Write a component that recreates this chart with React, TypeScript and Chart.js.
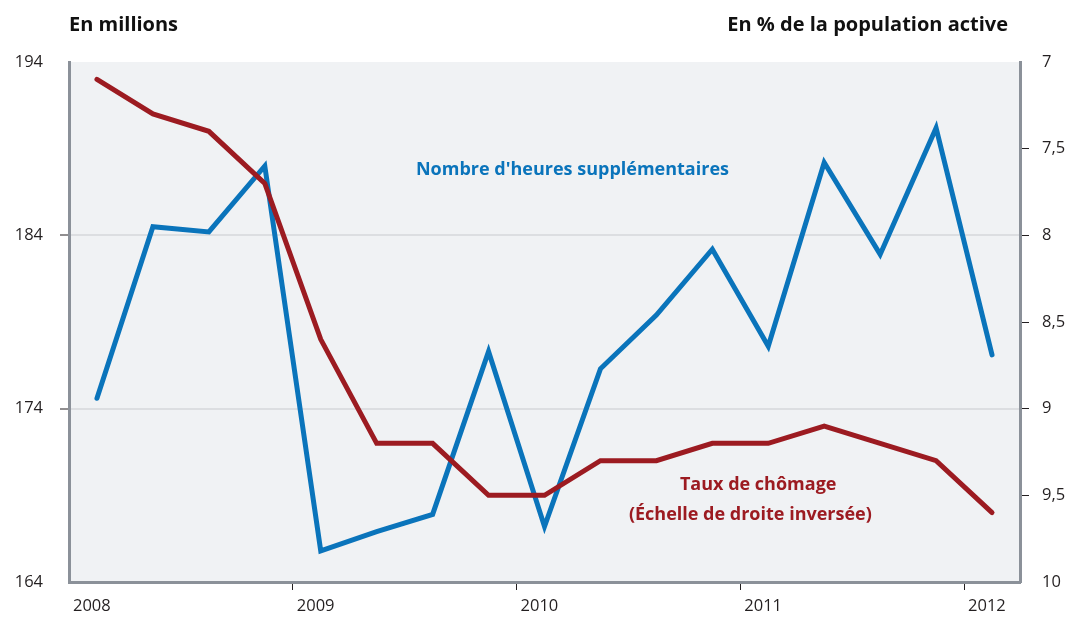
import React, { useEffect, useRef } from "react";
import { Chart, registerables } from "chart.js";
Chart.register(...registerables);

// Quarter mid-points (x positions in years)
const quarters = [
  2008.125, 2008.375, 2008.625, 2008.875,
  2009.125, 2009.375, 2009.625, 2009.875,
  2010.125, 2010.375, 2010.625, 2010.875,
  2011.125, 2011.375, 2011.625, 2011.875,
  2012.125,
];
// Nombre d'heures supplémentaires (millions, left axis)
const heuresSupp = [
  174.6, 184.5, 184.2, 188.0,
  165.8, 166.9, 167.9, 177.3,
  167.2, 176.3, 179.4, 183.2,
  177.6, 188.2, 182.9, 190.2,
  177.1,
];
// Taux de chômage (% population active, right axis inverted)
const chomage = [
  7.1, 7.3, 7.4, 7.7,
  8.6, 9.2, 9.2, 9.5,
  9.5, 9.3, 9.3, 9.2,
  9.2, 9.1, 9.2, 9.3,
  9.6,
];
const yearTicks = [2008, 2009, 2010, 2011, 2012];
const leftTicks = [164, 174, 184, 194];
const leftMarked = [174, 184];
const rightTicks = [7, 7.5, 8, 8.5, 9, 9.5, 10];
const rightMarked = [7.5, 8, 8.5, 9, 9.5];

const BLUE = "#0a74bb";
const RED = "#9c1b21";
const AXIS = "#8b9199";
const TEXT = "#231f20";
const FONT = "'Open Sans', 'Noto Sans', sans-serif";

const annotations = [
  { text: "Nombre d'heures supplémentaires", x: 2010.25, y: 187.77, color: BLUE },
  { text: "Taux de chômage", x: 2011.08, y: 169.6, color: RED },
  { text: "(Échelle de droite inversée)", x: 2011.045, y: 167.86, color: RED },
];

export default function App() {
  const ref = useRef<HTMLCanvasElement | null>(null);
  useEffect(() => {
    document.body.style.margin = "0";
    const canvas = ref.current;
    if (!canvas) return;

    const bgPlugin = {
      id: "bg",
      beforeDraw(chart: any) {
        const { ctx, chartArea } = chart;
        ctx.save();
        ctx.fillStyle = "#f0f2f4";
        ctx.fillRect(chartArea.left, chartArea.top, chartArea.right - chartArea.left, chartArea.bottom - chartArea.top);
        ctx.restore();
      },
    };
    const textPlugin = {
      id: "texts",
      afterDraw(chart: any) {
        const { ctx } = chart;
        const xs = chart.scales.x;
        const ys = chart.scales.y;
        ctx.save();
        ctx.textBaseline = "middle";
        ctx.font = `bold 20px ${FONT}`;
        ctx.fillStyle = "#111";
        ctx.textAlign = "left";
        ctx.fillText("En millions", 69, 25);
        ctx.textAlign = "right";
        ctx.fillText("En % de la population active", 1008, 25);
        ctx.font = `bold 18px ${FONT}`;
        ctx.textAlign = "center";
        for (const a of annotations) {
          ctx.fillStyle = a.color;
          ctx.fillText(a.text, xs.getPixelForValue(a.x), ys.getPixelForValue(a.y));
        }
        ctx.restore();
      },
    };

    const chart = new Chart(canvas, {
      type: "line",
      data: {
        datasets: [
          {
            label: "Taux de chômage",
            data: quarters.map((q, i) => ({ x: q, y: chomage[i] })),
            yAxisID: "y2",
            borderColor: RED,
            borderWidth: 5,
            pointRadius: 0,
            tension: 0,
            borderCapStyle: "round",
            order: 0,
          },
          {
            label: "Nombre d'heures supplémentaires",
            data: quarters.map((q, i) => ({ x: q, y: heuresSupp[i] })),
            yAxisID: "y",
            borderColor: BLUE,
            borderWidth: 5,
            pointRadius: 0,
            tension: 0,
            borderCapStyle: "round",
            order: 1,
          },
        ],
      },
      options: {
        responsive: false,
        animation: false,
        layout: { padding: { top: 62, left: 0, right: 0, bottom: 0 } },
        plugins: { legend: { display: false }, tooltip: { enabled: false } },
        scales: {
          x: {
            type: "linear",
            min: 2008,
            max: 2012.25,
            afterBuildTicks: (s: any) => { s.ticks = yearTicks.map((v) => ({ value: v })); },
            afterFit: (s: any) => { s.height = 35; },
            border: { color: AXIS, width: 3 },
            grid: {
              drawOnChartArea: false,
              tickLength: 8,
              tickWidth: 1,
              tickColor: (c: any) => (c.tick && c.tick.value > 2008 ? TEXT : "transparent"),
            },
            ticks: {
              align: "start",
              labelOffset: 4,
              padding: 6,
              maxRotation: 0,
              autoSkip: false,
              color: TEXT,
              font: { family: FONT, size: 16.5 },
              callback: (v: any) => String(v),
            },
          },
          y: {
            position: "left",
            min: 164,
            max: 194,
            afterBuildTicks: (s: any) => { s.ticks = leftTicks.map((v) => ({ value: v })); },
            afterFit: (s: any) => { s.width = 69; },
            border: { color: AXIS, width: 3 },
            grid: {
              lineWidth: 2,
              color: (c: any) => (c.tick && leftMarked.includes(c.tick.value) ? "#dcdee1" : "transparent"),
              tickColor: (c: any) => (c.tick && leftMarked.includes(c.tick.value) ? TEXT : "transparent"),
              tickLength: 9,
              tickWidth: 1,
            },
            ticks: {
              padding: 17,
              color: TEXT,
              font: { family: FONT, size: 16.5 },
            },
          },
          y2: {
            position: "right",
            reverse: true,
            min: 7,
            max: 10,
            afterBuildTicks: (s: any) => { s.ticks = rightTicks.map((v) => ({ value: v })); },
            afterFit: (s: any) => { s.width = 48; },
            border: { color: AXIS, width: 3 },
            grid: {
              drawOnChartArea: false,
              tickColor: (c: any) => (c.tick && rightMarked.includes(c.tick.value) ? TEXT : "transparent"),
              tickLength: 9,
              tickWidth: 1,
            },
            ticks: {
              padding: 13,
              color: TEXT,
              font: { family: FONT, size: 16.5 },
              callback: (v: any) => String(v).replace(".", ","),
            },
          },
        },
      },
      plugins: [bgPlugin, textPlugin],
    } as any);
    return () => chart.destroy();
  }, []);
  return (
    <div style={{ width: 1068, height: 617 }}>
      <canvas ref={ref} width={1068} height={617} style={{ display: "block" }} />
    </div>
  );
}
